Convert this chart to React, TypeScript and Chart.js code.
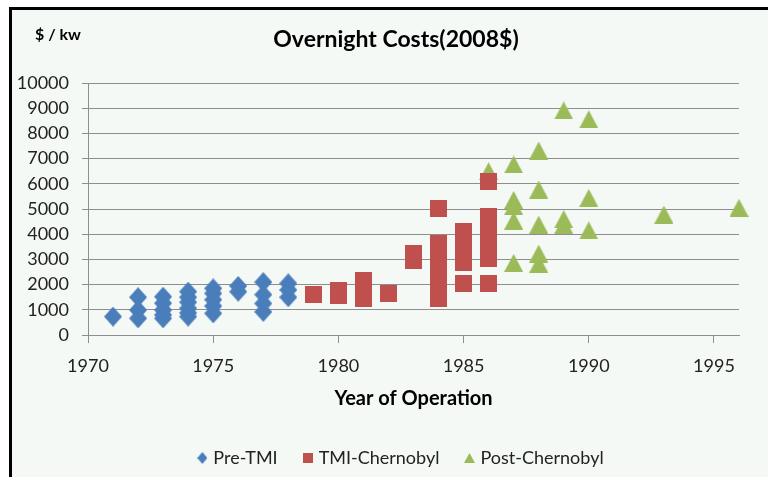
import React, { useEffect, useRef } from "react";
import { Chart, registerables } from "chart.js";

Chart.register(...registerables);

const chartTitle = "Overnight Costs(2008$)";
const unitLabel = "$ / kw";
const xAxisTitle = "Year of Operation";
const seriesNames = ["Pre-TMI", "TMI-Chernobyl", "Post-Chernobyl"];
const seriesColors = ["#4A7EBB", "#C0504D", "#9BBB59"];

const preTmiYears = [1971, 1972, 1972, 1972, 1973, 1973, 1973, 1973, 1973, 1974, 1974, 1974, 1974, 1974, 1974, 1975, 1975, 1975, 1975, 1975, 1976, 1976, 1977, 1977, 1977, 1977, 1978, 1978, 1978];
const preTmiCosts = [730, 1500, 990, 660, 1520, 1260, 990, 800, 660, 1720, 1500, 1300, 1060, 880, 730, 1850, 1650, 1400, 1150, 860, 1945, 1720, 2100, 1600, 1250, 920, 2050, 1790, 1500];

const tmiYears = [1979, 1980, 1980, 1981, 1981, 1981, 1981, 1982, 1983, 1983, 1984, 1984, 1984, 1984, 1984, 1984, 1984, 1984, 1984, 1985, 1985, 1985, 1985, 1985, 1985, 1986, 1986, 1986, 1986, 1986, 1986, 1986];
const tmiCosts = [1600, 1780, 1570, 2180, 1900, 1650, 1430, 1630, 3230, 2940, 5030, 3630, 3300, 3000, 2700, 2400, 2100, 1800, 1440, 4090, 3800, 3500, 3200, 2860, 2060, 6100, 4690, 4300, 3900, 3500, 3050, 2060];

const postYears = [1986, 1987, 1987, 1987, 1987, 1987, 1988, 1988, 1988, 1988, 1988, 1989, 1989, 1989, 1990, 1990, 1990, 1993, 1996];
const postCosts = [6500, 6770, 5360, 5120, 4540, 2860, 7320, 5770, 4380, 3230, 2830, 8910, 4600, 4370, 8560, 5440, 4150, 4780, 5050];

const xMin = 1970;
const xMax = 1996;
const xStep = 5;
const yMin = 0;
const yMax = 10000;
const yStep = 1000;

function makeMarker(kind: string, w: number, h: number, color: string) {
  const c = document.createElement("canvas");
  c.width = w;
  c.height = h;
  const ctx = c.getContext("2d")!;
  ctx.fillStyle = color;
  ctx.beginPath();
  if (kind === "diamond") {
    ctx.moveTo(w / 2, 0);
    ctx.lineTo(w, h / 2);
    ctx.lineTo(w / 2, h);
    ctx.lineTo(0, h / 2);
  } else if (kind === "square") {
    ctx.rect(0, 0, w, h);
  } else {
    ctx.moveTo(w / 2, 0);
    ctx.lineTo(w, h);
    ctx.lineTo(0, h);
  }
  ctx.closePath();
  ctx.fill();
  return c;
}

const unitLabelPlugin = {
  id: "unitLabel",
  afterDraw(chart: any) {
    const ctx = chart.ctx;
    ctx.save();
    ctx.font = "bold 16px Lato";
    ctx.fillStyle = "#000";
    ctx.textAlign = "left";
    ctx.textBaseline = "middle";
    ctx.fillText(unitLabel, 35, 35);
    ctx.restore();
  },
};

// Recentre the title and legend boxes the way the original layout does.
const recentrePlugin = {
  id: "recentre",
  afterLayout(chart: any) {
    const shift = (box: any, center: number) => {
      if (!box) return;
      const right = 739;
      const half = right - center;
      box.left = center - half;
      box.right = right;
      box.width = box.right - box.left;
    };
    shift(chart.titleBlock, 396);
    shift(chart.legend, 402);
  },
};

export default function App() {
  const ref = useRef<HTMLCanvasElement | null>(null);

  useEffect(() => {
    if (!ref.current) return;
    const bigMarkers = [
      makeMarker("diamond", 18, 20, seriesColors[0]),
      makeMarker("square", 17, 17, seriesColors[1]),
      makeMarker("triangle", 19, 18, seriesColors[2]),
    ];
    const smallMarkers = [
      makeMarker("diamond", 10, 12, seriesColors[0]),
      makeMarker("square", 10, 10, seriesColors[1]),
      makeMarker("triangle", 11, 10, seriesColors[2]),
    ];
    const toPoints = (xs: number[], ys: number[]) => xs.map((x, i) => ({ x, y: ys[i] }));
    const series = [
      toPoints(preTmiYears, preTmiCosts),
      toPoints(tmiYears, tmiCosts),
      toPoints(postYears, postCosts),
    ];
    const gridColor = "#8e8e8e";
    const textColor = "#222";
    Chart.defaults.font.family = "Lato";

    const chart = new Chart(ref.current, {
      type: "scatter",
      data: {
        datasets: series.map((pts, i) => ({
          label: seriesNames[i],
          data: pts,
          pointStyle: bigMarkers[i] as any,
          backgroundColor: seriesColors[i],
          borderColor: seriesColors[i],
          pointRadius: 9,
          clip: false as any,
        })),
      },
      options: {
        animation: false,
        responsive: false,
        devicePixelRatio: 1,
        layout: { padding: { left: 13, right: 29, top: 0, bottom: 0 } },
        scales: {
          x: {
            type: "linear",
            min: xMin,
            max: xMax,
            afterFit: (s: any) => {
              s.height = 86;
            },
            ticks: {
              stepSize: xStep,
              includeBounds: false,
              padding: 12,
              color: textColor,
              font: { size: 18, family: "Lato" },
              callback: (v: any) => String(v),
            },
            grid: {
              drawOnChartArea: false,
              drawTicks: true,
              tickLength: 8,
              color: gridColor,
            },
            border: { color: gridColor, width: 1 },
            title: {
              display: true,
              text: xAxisTitle,
              color: "#000",
              font: { size: 20, weight: "bold", family: "Lato" },
              padding: { top: 0, bottom: 10 },
            },
          },
          y: {
            min: yMin,
            max: yMax,
            afterFit: (s: any) => {
              s.width = 75;
            },
            ticks: {
              stepSize: yStep,
              padding: 13,
              color: textColor,
              font: { size: 18, family: "Lato" },
              callback: (v: any) => String(v),
            },
            grid: { color: gridColor, tickLength: 6 },
            border: { color: gridColor, width: 1 },
          },
        },
        plugins: {
          title: {
            display: true,
            text: chartTitle,
            color: "#000",
            font: { size: 23, weight: "bold", family: "Lato" },
            padding: { top: 26.2, bottom: 29.2 },
          },
          legend: {
            position: "bottom",
            labels: {
              usePointStyle: true,
              boxWidth: 4,
              boxHeight: 12,
              padding: 28,
              color: textColor,
              font: { size: 18, family: "Lato" },
              generateLabels: (ch: any) =>
                ch.data.datasets.map((ds: any, i: number) => ({
                  text: ds.label,
                  pointStyle: smallMarkers[i],
                  fillStyle: seriesColors[i],
                  strokeStyle: seriesColors[i],
                  lineWidth: 0,
                  hidden: false,
                  datasetIndex: i,
                  fontColor: textColor,
                })),
            },
          },
          tooltip: { enabled: false },
        },
      },
      plugins: [unitLabelPlugin, recentrePlugin],
    });
    return () => chart.destroy();
  }, []);

  return (
    <div
      style={{
        position: "fixed",
        left: 0,
        top: 0,
        width: 768,
        height: 477,
        background: "#fff",
        overflow: "hidden",
      }}
    >
      <div
        style={{
          position: "absolute",
          left: 9,
          top: 7,
          width: 800,
          height: 500,
          background: "#f4f9f6",
          borderLeft: "3px solid #000",
          borderTop: "3px solid #000",
        }}
      />
      <canvas
        ref={ref}
        width={768}
        height={477}
        style={{ position: "absolute", left: 0, top: 0, width: 768, height: 477 }}
      />
    </div>
  );
}
